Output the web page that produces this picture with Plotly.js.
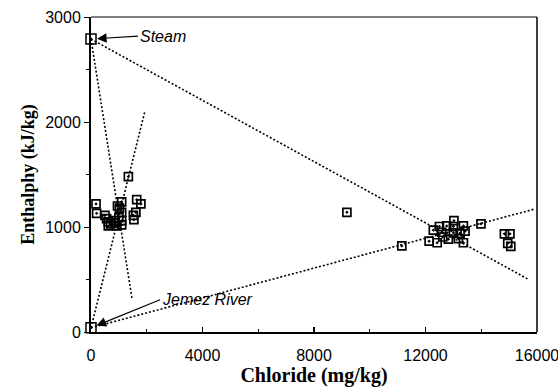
<!DOCTYPE html>
<html>
<head>
<meta charset="utf-8">
<script src="https://cdn.plot.ly/plotly-3.0.1.min.js"></script>
<style>html,body{margin:0;padding:0;background:#fff;}#chart{width:558px;height:390px;}</style>
</head>
<body>
<div id="chart"></div>
<script>
// Geothermal well samples (Chloride mg/kg, Enthalpy kJ/kg)
var leftClusterCl = [180, 200, 500, 560, 620, 700, 620, 870, 920, 1100, 1100, 950, 1020, 1100, 1100, 1340, 1640, 1790, 1610, 1520, 1540, 820, 1000];
var leftClusterH  = [1220, 1130, 1110, 1080, 1050, 1030, 1010, 1040, 1010, 1020, 1060, 1200, 1180, 1240, 1140, 1480, 1260, 1220, 1140, 1110, 1070, 1060, 1090];
var rightClusterCl = [9180, 11150, 12130, 12420, 12280, 12500, 12760, 13020, 13000, 13360, 13420, 13240, 13000, 12580, 12620, 12820, 13180, 13360, 13990, 14830, 15030, 14950, 15060];
var rightClusterH  = [1140, 820, 865, 850, 970, 1005, 1010, 1060, 1005, 1010, 960, 940, 945, 950, 905, 885, 890, 850, 1030, 935, 935, 845, 815];
// End members
var endMemberCl = [0, 0];
var endMemberH  = [2790, 40];
var endMemberNames = ["Steam", "Jemez River"];
// Mixing / boiling lines
var steamLineCl = [0, 15700];
var steamLineH  = [2790, 500];
var jemezLineCl = [0, 15900];
var jemezLineH  = [40, 1170];
var steepSteamCl = [0, 1470];
var steepSteamH  = [2790, 320];
var steepJemezCl = [0, 1940];
var steepJemezH  = [40, 2110];
// Ticks
var xTickVals = [0, 4000, 8000, 12000, 16000];
var xTickLabels = ["0", "4000", "8000", "12000", "16000"];
var yTickVals = [0, 1000, 2000, 3000];
var yTickLabels = ["0", "1000", "2000", "3000"];

var dotLine = {color: 'black', width: 1.6, dash: '2px,2px'};
function lineTrace(x, y) {
  return {x: x, y: y, mode: 'lines', type: 'scatter', line: dotLine, hoverinfo: 'skip', showlegend: false, cliponaxis: false};
}
var sampleMarker = {symbol: 'square-open-dot', size: 8, color: 'black', line: {color: 'black', width: 1.7}};
var traces = [
  lineTrace(steamLineCl, steamLineH),
  lineTrace(jemezLineCl, jemezLineH),
  lineTrace(steepSteamCl, steepSteamH),
  lineTrace(steepJemezCl, steepJemezH),
  {x: leftClusterCl, y: leftClusterH, mode: 'markers', type: 'scatter', marker: sampleMarker, showlegend: false},
  {x: rightClusterCl, y: rightClusterH, mode: 'markers', type: 'scatter', marker: sampleMarker, showlegend: false},
  {x: endMemberCl, y: endMemberH, mode: 'markers', type: 'scatter', cliponaxis: false,
   marker: {symbol: 'square-open-dot', size: 10, color: 'black', line: {color: 'black', width: 1.5}}, showlegend: false}
];

var tickFont = {family: 'Liberation Sans, Arial, sans-serif', size: 16, color: 'black'};
var xTitleFont = {family: 'Liberation Serif, Times New Roman, serif', size: 20, color: 'black', weight: 'bold'};
var yTitleFont = {family: 'Liberation Serif, Times New Roman, serif', size: 18, color: 'black', weight: 'bold'};
var layout = {
  width: 558, height: 390,
  margin: {l: 91, r: 21, t: 17, b: 58},
  paper_bgcolor: 'white', plot_bgcolor: 'white',
  showlegend: false,
  font: tickFont,
  xaxis: {
    range: [0, 16000], showgrid: false, zeroline: false,
    showline: true, linecolor: 'black', linewidth: 2,
    tickvals: xTickVals, ticktext: xTickLabels, ticklabeloverflow: 'allow',
    ticks: 'inside', ticklen: 5, tickwidth: 1.5, tickcolor: 'black',
    minor: {dtick: 2000, ticks: 'inside', ticklen: 3, tickwidth: 1, tickcolor: 'black'},
    tickfont: tickFont, ticklabelstandoff: 8,
    title: {text: 'Chloride (mg/kg)', font: xTitleFont, standoff: 3}
  },
  yaxis: {
    range: [0, 3000], showgrid: false, zeroline: false,
    showline: true, linecolor: 'black', linewidth: 2,
    tickvals: yTickVals, ticktext: yTickLabels,
    ticks: 'outside', ticklen: 5, tickwidth: 1, tickcolor: 'black',
    minor: {dtick: 500, ticks: 'outside', ticklen: 3, tickwidth: 1, tickcolor: 'black'},
    tickfont: tickFont,
    title: {text: 'Enthalphy (kJ/kg)', font: yTitleFont, standoff: 6}
  },
  shapes: [
    {type: 'line', xref: 'paper', yref: 'paper', x0: 0, x1: 1, y0: 1, y1: 1, line: {color: 'black', width: 1}},
    {type: 'line', xref: 'paper', yref: 'paper', x0: 1, x1: 1, y0: 0, y1: 1, line: {color: 'black', width: 1.5}}
  ],
  annotations: [
    {x: endMemberCl[0], y: endMemberH[0], text: '<i>' + endMemberNames[0] + '</i>', showarrow: true,
     ax: 47, ay: -3, xanchor: 'left', arrowhead: 2, arrowsize: 1.6, arrowwidth: 1.2, arrowcolor: 'black', standoff: 6,
     font: {family: 'Liberation Sans, Arial, sans-serif', size: 16, color: 'black'}},
    {x: endMemberCl[1], y: endMemberH[1], text: '<i>' + endMemberNames[1] + '</i>', showarrow: true,
     ax: 69, ay: -28, xanchor: 'left', arrowhead: 2, arrowsize: 1.6, arrowwidth: 1.2, arrowcolor: 'black', standoff: 6,
     font: {family: 'Liberation Sans, Arial, sans-serif', size: 16, color: 'black'}}
  ]
};
Plotly.newPlot('chart', traces, layout, {displayModeBar: false, staticPlot: true});
</script>
</body>
</html>
